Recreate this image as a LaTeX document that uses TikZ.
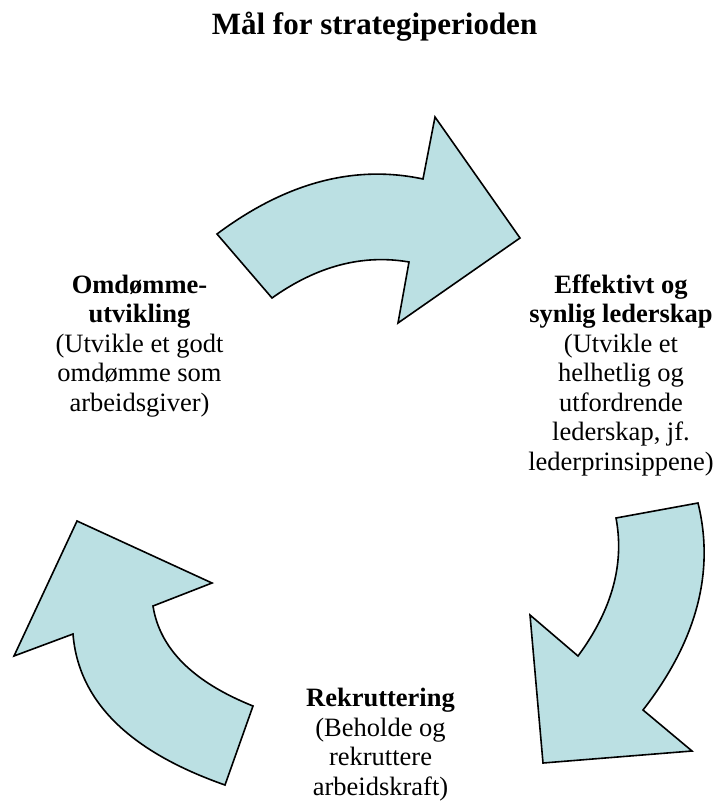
\documentclass[tikz,border=0pt]{standalone}
\usepackage{fontspec}
\setmainfont{Liberation Serif}
\usetikzlibrary{calc}
\definecolor{arrowfill}{RGB}{187,224,227}
\begin{document}
\begin{tikzpicture}[x=1pt,y=-1pt,
  cyclearrow/.style={draw=black, fill=arrowfill, line width=1.6pt, line join=miter},
  lbl/.style={font=\fontsize{26.5}{29.5}\selectfont, align=center, inner sep=0pt, anchor=base},
  titlelbl/.style={font=\fontsize{31}{37}\selectfont\bfseries, inner sep=0pt, anchor=base}]
\useasboundingbox (0,0) rectangle (715,805);

% Arrow 1 (top)
\coordinate (a1) at (217,234);
\coordinate (a1p) at (320,157);
\coordinate (a2) at (423,179);
\coordinate (a3) at (435,117);
\coordinate (a4) at (520,238);
\coordinate (a5) at (398,323);
\coordinate (a6) at (409,262);
\coordinate (a6p) at (339.5,250);
\coordinate (a7) at (272,298);
\draw[cyclearrow] (a1) .. controls ($(a1)!2/3!(a1p)$) and ($(a2)!2/3!(a1p)$) .. (a2)
  -- (a3) -- (a4) -- (a5) -- (a6)
  .. controls ($(a6)!2/3!(a6p)$) and ($(a7)!2/3!(a6p)$) .. (a7) -- cycle;

% Arrow 2 (right)
\coordinate (b1) at (698,503);
\coordinate (b2) at (616,518);
\coordinate (b2p) at (629,587);
\coordinate (b3) at (578,656);
\coordinate (b4) at (530,615);
\coordinate (b5) at (543,763);
\coordinate (b6) at (692,751);
\coordinate (b7) at (643,710);
\coordinate (b7p) at (723.5,606.5);
\draw[cyclearrow] (b1) -- (b2)
  .. controls ($(b2)!2/3!(b2p)$) and ($(b3)!2/3!(b2p)$) .. (b3)
  -- (b4) -- (b5) -- (b6) -- (b7)
  .. controls ($(b7)!2/3!(b7p)$) and ($(b1)!2/3!(b7p)$) .. (b1) -- cycle;

% Arrow 3 (left)
\coordinate (c1) at (77,521);
\coordinate (c2) at (212,583);
\coordinate (c3) at (153,606);
\coordinate (c3p) at (163,670);
\coordinate (c4) at (253,706);
\coordinate (c5) at (225,785);
\coordinate (c5p) at (81,734.5);
\coordinate (c6) at (73,634);
\coordinate (c7) at (14,656);
\draw[cyclearrow] (c1) -- (c2) -- (c3)
  .. controls ($(c3)!2/3!(c3p)$) and ($(c4)!2/3!(c3p)$) .. (c4)
  -- (c5)
  .. controls ($(c5)!2/3!(c5p)$) and ($(c6)!2/3!(c5p)$) .. (c6)
  -- (c7) -- cycle;

% Texts (base anchor = baseline of the last line)
\node[titlelbl] (title) at (374.5,35) {Mål for strategiperioden};
\node[lbl] (omd) at (139.5,411) {\textbf{Omdømme-}\\\textbf{utvikling}\\(Utvikle et godt\\omdømme som\\arbeidsgiver)};
\node[lbl] (eff) at (621,470) {\textbf{Effektivt og}\\\textbf{synlig lederskap}\\(Utvikle et\\helhetlig og\\utfordrende\\lederskap, jf.\\lederprinsippene)};
\node[lbl] (rek) at (380.5,795) {\textbf{Rekruttering}\\(Beholde og\\rekruttere\\arbeidskraft)};
\end{tikzpicture}
\end{document}
